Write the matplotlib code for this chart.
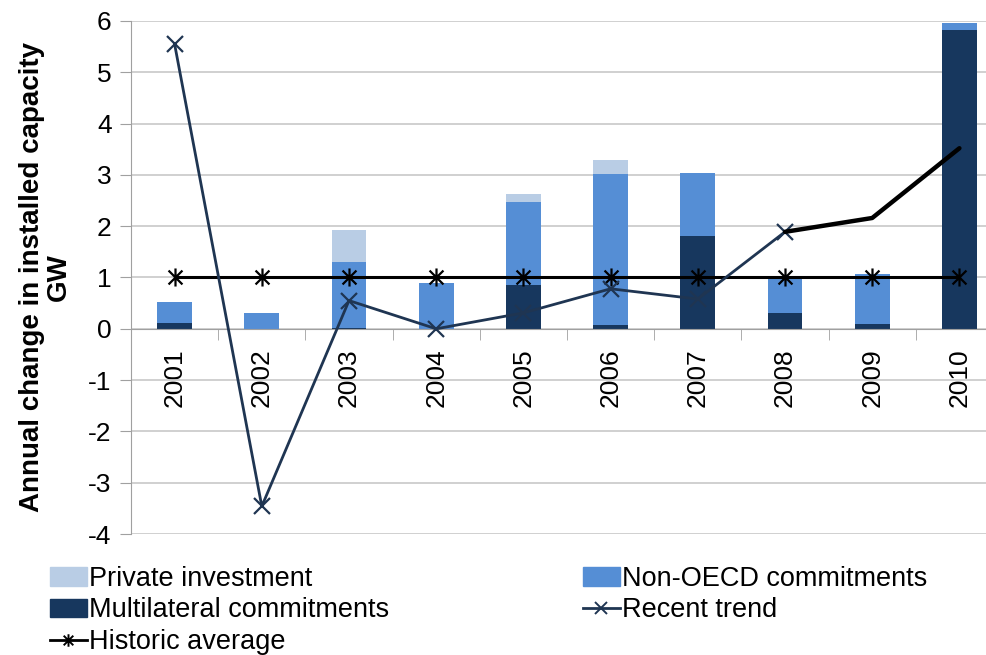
import numpy as np
import matplotlib.pyplot as plt
from matplotlib.path import Path
from matplotlib.patches import Patch
from matplotlib.lines import Line2D

plt.rcParams['font.family'] = ['Liberation Sans', 'DejaVu Sans']
plt.rcParams['axes.unicode_minus'] = False

years = ["2001", "2002", "2003", "2004", "2005", "2006", "2007", "2008", "2009", "2010"]
multilateral = [0.12, 0.0, 0.02, 0.0, 0.86, 0.08, 1.80, 0.31, 0.10, 5.83]
non_oecd = [0.41, 0.31, 1.29, 0.90, 1.62, 2.94, 1.24, 0.72, 0.97, 0.13]
private = [0.0, 0.0, 0.61, 0.0, 0.15, 0.27, 0.0, 0.0, 0.0, 0.0]
recent_trend = [5.55, -3.46, 0.55, 0.0, 0.31, 0.78, 0.58, 1.89]
trend_ext_years = ["2008", "2009", "2010"]
trend_ext = [1.89, 2.16, 3.52]
historic_avg = [1.0] * 10

c_private = "#b9cde5"
c_nonoecd = "#558ed5"
c_multi = "#17375e"
c_trend = "#1f3552"

# asterisk marker like excel: x plus vertical bar
star = Path([(-1, -1), (1, 1), (-1, 1), (1, -1), (0, -1.3), (0, 1.3)],
            [Path.MOVETO, Path.LINETO, Path.MOVETO, Path.LINETO, Path.MOVETO, Path.LINETO])

fig = plt.figure(figsize=(9.87, 6.55), dpi=100)
ax = fig.add_axes([131 / 987, 1 - 534 / 655, (1003 - 131) / 987, (534 - 21) / 655])

# category axis crosses at zero (set before tick styling, it resets ticks)
ax.spines["bottom"].set_position(("data", 0))
for s in ["top", "right"]:
    ax.spines[s].set_visible(False)
ax.spines["bottom"].set_color("#a0a0a0")
ax.spines["left"].set_color("#a0a0a0")

x = np.arange(len(years))
w = 0.4
m = np.array(multilateral)
n = np.array(non_oecd)
p = np.array(private)
ax.bar(x, m, w, color=c_multi, zorder=2)
ax.bar(x, n, w, bottom=m, color=c_nonoecd, zorder=2)
ax.bar(x, p, w, bottom=m + n, color=c_private, zorder=2)

ax.plot(x, historic_avg, color="black", lw=2.2, marker=star, ms=13, mew=1.6, zorder=3)
ax.plot(x[:len(recent_trend)], recent_trend, color=c_trend, lw=2, marker="x", ms=11, mew=1.6, zorder=4)
ext_x = [years.index(y) for y in trend_ext_years]
ax.plot(ext_x, trend_ext, color="black", lw=3.2, zorder=4, solid_capstyle="round")

ax.set_xlim(-0.5, 9.5)
ax.set_ylim(-4, 6)
ax.set_yticks(range(-4, 7))
ax.yaxis.grid(True, color="#c8c8c8", lw=1.2)
ax.set_axisbelow(True)

ax.set_xticks(x)
ax.set_xticklabels(years, rotation=90, fontsize=19)
ax.set_xticks(np.arange(-0.5, 10, 1), minor=True)
ax.tick_params(axis="x", which="major", length=0, pad=14)
ax.tick_params(axis="x", which="minor", length=8, color="#a0a0a0", direction="out")
ax.tick_params(axis="y", labelsize=19, length=8, color="#a0a0a0", pad=6)

ax.set_ylabel("Annual change in installed capacity\nGW", fontsize=20, fontweight="bold",
              linespacing=1.0, labelpad=12)

h_private = Patch(color=c_private, label="Private investment")
h_nonoecd = Patch(color=c_nonoecd, label="Non-OECD commitments")
h_multi = Patch(color=c_multi, label="Multilateral commitments")
h_trend = Line2D([], [], color=c_trend, lw=2, marker="x", ms=9, mew=1.4, label="Recent trend")
h_hist = Line2D([], [], color="black", lw=2, marker=star, ms=9, mew=1.4, label="Historic average")

leg_kw = dict(frameon=False, fontsize=19.5, handlelength=1.35, handleheight=0.65,
              handletextpad=0.1, labelspacing=0.2, borderpad=0, borderaxespad=0)
leg1 = fig.legend(handles=[h_private, h_multi, h_hist], loc="upper left",
                  bbox_to_anchor=(50 / 987, 1 - 566 / 655), **leg_kw)
leg2 = fig.legend(handles=[h_nonoecd, h_trend], loc="upper left",
                  bbox_to_anchor=(583 / 987, 1 - 566 / 655), **leg_kw)

fig.savefig("out.png", dpi=100)
